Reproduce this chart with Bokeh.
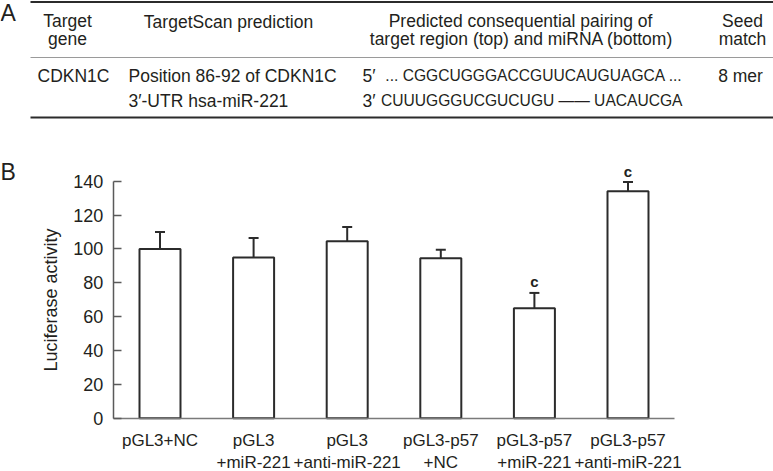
from bokeh.plotting import figure
from bokeh.models import (ColumnDataSource, Range1d, FixedTicker, Whisker, TeeHead,
                          LinearAxis)
from bokeh.core.properties import value
from bokeh.embed import file_html
from bokeh.resources import INLINE

# ---------------- data ----------------
categories = ["pGL3+NC", "pGL3+miR-221", "pGL3+anti-miR-221",
              "pGL3-p57+NC", "pGL3-p57+miR-221", "pGL3-p57+anti-miR-221"]
label_line1 = ["pGL3+NC", "pGL3", "pGL3", "pGL3-p57", "pGL3-p57", "pGL3-p57"]
label_line2 = ["", "+miR-221", "+anti-miR-221", "+NC", "+miR-221", "+anti-miR-221"]
luciferase = [100, 95, 104.5, 94.5, 65, 134]
errors = [10, 11.5, 8.5, 5, 9, 5.5]
significance = ["", "", "", "", "c", "c"]
y_ticks = [0, 20, 40, 60, 80, 100, 120, 140]

header_gene = ["Target", "gene"]
header_prediction = "TargetScan prediction"
header_pairing = ["Predicted consequential pairing of", "target region (top) and miRNA (bottom)"]
header_seed = ["Seed", "match"]
row_gene = "CDKN1C"
row_prediction = ["Position 86-92 of CDKN1C", "3\u2032-UTR hsa-miR-221"]
row_ends = ["5\u2032", "3\u2032"]
row_pairing = ["... CGGCUGGGACCGUUCAUGUAGCA ...", "CUUUGGGUCGUCUGU \u2014\u2014 UACAUCGA"]
row_seed = "8 mer"

# ---------------- layout constants (pixels) ----------------
FONT = "Liberation Sans"
TXT = "#231f20"
W, H = 773, 471
AXIS_X_PX = 112.7            # position of the y axis
STEP_PX = 93.6               # width of one category slot
Y0_PX, Y140_PX = 417.7, 180.7  # pixel rows of value 0 and 140

pos = list(range(1, len(categories) + 1))
x_start = 0.5 - AXIS_X_PX / STEP_PX
x_end = x_start + W / STEP_PX
k = 140.0 / (Y0_PX - Y140_PX)
y_end = Y0_PX * k
y_start = y_end - H * k

p = figure(width=W, height=H, x_range=Range1d(x_start, x_end),
           y_range=Range1d(y_start, y_end), output_backend="svg",
           toolbar_location=None, min_border=0)
p.extra_x_ranges = {"px": Range1d(0, W)}
p.extra_y_ranges = {"px": Range1d(H, 0)}
p.outline_line_color = None
p.grid.visible = False
p.background_fill_color = "white"

def txt(x, y, s, size=17.5, align="center", style="normal"):
    p.text(x=[x], y=[y], text=[s], text_font=value(FONT), text_font_size=f"{size}px",
           text_align=align, text_baseline="middle", text_color=TXT,
           text_font_style=style, x_range_name="px", y_range_name="px")

# ---------------- panel A (table) ----------------
txt(0, 12, "A", size=23, align="left")
for yy, col, lw in [(1.5, "#2b2b2b", 2), (57, "#9a9a9a", 1), (117, "#2b2b2b", 2)]:
    p.segment(x0=[30], y0=[yy], x1=[W], y1=[yy], line_color=col, line_width=lw,
              x_range_name="px", y_range_name="px")

txt(67, 20.5, header_gene[0])
txt(67, 38, header_gene[1])
txt(228, 21, header_prediction)
txt(520, 20, header_pairing[0])
txt(521, 38, header_pairing[1])
txt(742, 20, header_seed[0])
txt(742, 38, header_seed[1])

txt(37, 75, row_gene, align="left")
txt(128, 75, row_prediction[0], align="left")
txt(128, 100, row_prediction[1], align="left")
txt(362, 75, row_ends[0], align="left")
txt(362, 100, row_ends[1], align="left")
txt(682, 75, row_pairing[0], size=15.6, align="right")
txt(682, 100, row_pairing[1], size=15.6, align="right")
txt(740, 75, row_seed)

# ---------------- panel B (bar chart) ----------------
txt(0, 171, "B", size=23, align="left")

upper = [v + e for v, e in zip(luciferase, errors)]
src = ColumnDataSource(dict(x=pos, cat=categories, val=luciferase, upper=upper,
                            sig=significance))

p.vbar(x="x", top="val", width=0.438, source=src, fill_color="white",
       line_color="#2b2b2b", line_width=2)
wh = Whisker(base="x", upper="upper", lower="val", source=src,
             line_color="#2b2b2b", line_width=2,
             upper_head=TeeHead(size=10, line_color="#2b2b2b", line_width=2),
             lower_head=None)
p.add_layout(wh)
p.text(x="x", y="upper", text="sig", source=src, text_font=value(FONT),
       text_font_size="15px", text_align="center", text_baseline="middle",
       y_offset=-11, text_color=TXT, text_font_style="bold")

yax = p.yaxis[0]
yax.fixed_location = 0.5
yax.bounds = (0, 140)
yax.ticker = FixedTicker(ticks=y_ticks)
yax.axis_line_color = "#5a5a5a"
yax.axis_line_width = 1.5
yax.major_tick_line_color = "#5a5a5a"
yax.major_tick_line_width = 1.5
yax.major_tick_in = 8
yax.major_tick_out = 0
yax.minor_tick_line_color = None
yax.major_label_standoff = 10
yax.major_label_text_font = FONT
yax.major_label_text_font_size = "18px"
yax.major_label_text_color = TXT
yax.axis_label = "Luciferase activity"
yax.axis_label_text_font = FONT
yax.axis_label_text_font_size = "18px"
yax.axis_label_text_font_style = "normal"
yax.axis_label_text_color = TXT
yax.axis_label_standoff = 9

def style_x(ax, labels, standoff, line=True):
    ax.fixed_location = 0
    ax.bounds = (0.5, len(categories) + 0.5)
    ax.ticker = FixedTicker(ticks=pos)
    ax.major_label_overrides = {p_: l for p_, l in zip(pos, labels)}
    ax.axis_line_color = "#7a7a7a" if line else None
    ax.axis_line_width = 1.5
    ax.major_tick_line_color = None
    ax.minor_tick_line_color = None
    ax.major_tick_in = 0
    ax.major_tick_out = 0
    ax.major_label_standoff = standoff
    ax.major_label_text_font = FONT
    ax.major_label_text_font_size = "17px"
    ax.major_label_text_color = TXT

style_x(p.xaxis[0], label_line1, 13)
x2 = LinearAxis()
p.add_layout(x2, "below")
style_x(x2, label_line2, 35, line=False)

open("out.html", "w").write(file_html(p, INLINE))
